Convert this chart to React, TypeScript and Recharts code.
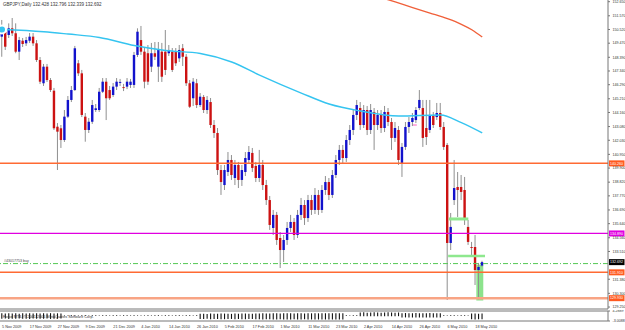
import React from 'react';
import { ComposedChart, Bar, Line, XAxis, YAxis, ReferenceLine, ReferenceArea } from 'recharts';

// ---- data ----
const dateLabels = ['5 Nov 2009','17 Nov 2009','27 Nov 2009','9 Dec 2009','21 Dec 2009','4 Jan 2010','14 Jan 2010','26 Jan 2010','5 Feb 2010','17 Feb 2010','1 Mar 2010','11 Mar 2010','23 Mar 2010','2 Apr 2010','14 Apr 2010','26 Apr 2010','6 May 2010','18 May 2010'];
const dateTickIdx = [0,8,16,24,32,40,48,56,64,72,80,88,96,104,112,120,128,136];

const priceTicks = [152.65,151.57,150.52,149.47,148.39,147.34,146.29,145.21,144.16,143.08,142.03,140.95,139.9,138.82,137.77,136.69,135.64,134.56,133.51,131.38,130.3,129.25];

const opens = [149.97,150.35,150.10,150.61,150.23,148.82,149.66,149.46,149.66,149.97,149.46,148.18,146.40,147.67,146.65,145.83,143.07,142.95,142.05,143.84,145.12,145.88,147.93,147.16,143.84,142.82,143.45,144.35,144.35,145.75,146.52,145.88,145.50,146.14,146.47,146.10,146.14,146.27,146.27,148.57,149.71,148.82,148.70,147.67,148.70,147.67,148.82,148.82,148.70,148.82,148.82,148.31,149.08,148.43,146.40,145.25,146.40,144.73,
145.35,144.35,144.96,143.20,142.59,139.75,138.60,139.60,140.52,139.14,140.14,138.99,139.60,140.52,141.06,140.06,139.14,140.14,138.60,137.45,135.31,136.31,134.54,133.62,134.39,135.31,135.77,134.77,136.31,137.07,136.07,137.45,136.69,137.84,136.69,138.22,138.83,137.84,139.37,140.52,141.29,140.67,142.05,142.82,143.97,144.50,143.20,144.35,142.82,144.20,143.20,143.97,142.97,144.20,143.43,142.21,142.82,
140.29,141.52,143.05,143.43,143.58,144.50,144.50,142.97,142.82,143.97,143.81,144.12,143.05,141.67,134.16,137.45,138.45,138.45,138.22,135.39,133.85,133.85,132.09,132.428];
const highs = [151.25,150.63,150.99,151.40,150.99,149.95,149.87,149.95,150.25,150.25,149.71,148.41,147.88,147.88,146.80,146.04,143.35,143.20,144.35,145.42,146.19,149.26,148.18,147.42,144.12,143.74,145.12,144.81,146.04,146.80,146.80,146.19,146.42,146.80,146.73,146.35,146.80,146.73,148.80,150.61,150.79,149.10,149.33,149.49,149.56,149.56,149.49,150.48,149.33,149.10,149.10,149.33,149.41,148.64,146.65,146.80,146.73,145.65,
145.50,145.42,145.27,143.58,142.97,140.14,140.14,141.13,140.90,140.52,140.37,140.14,141.13,141.59,141.44,140.37,141.29,140.52,138.99,137.76,136.69,136.54,135.00,134.77,135.77,136.31,136.07,136.69,137.61,137.45,137.84,137.84,138.37,138.22,138.60,139.29,139.14,139.75,140.90,141.67,141.67,142.43,143.20,144.35,145.12,144.96,144.73,144.66,144.81,144.50,144.35,144.35,144.66,144.50,143.74,143.43,143.12,
141.82,143.43,143.81,144.12,144.58,145.88,145.12,145.12,145.12,144.20,144.89,144.89,143.43,141.82,136.46,140.52,139.60,139.37,139.22,135.92,134.24,134.77,132.63,132.796];
const lows = [148.43,148.95,149.87,150.02,148.70,148.18,149.18,149.26,149.49,149.26,148.03,146.34,146.19,146.50,145.73,142.82,139.75,141.44,141.90,143.74,144.96,145.81,146.96,143.81,141.92,142.59,143.28,144.20,144.20,145.65,143.58,145.12,145.35,145.88,146.19,145.80,145.95,146.04,146.04,148.41,148.57,146.01,146.27,147.26,148.18,146.50,146.50,147.03,148.49,147.26,147.72,148.03,147.72,146.19,144.50,144.66,144.50,144.58,
144.12,144.05,142.97,142.21,139.37,137.84,138.22,139.29,138.99,138.60,138.37,138.53,139.29,140.21,139.60,138.83,138.83,138.22,137.07,135.16,134.77,134.01,132.24,132.70,134.01,135.00,134.39,134.54,135.92,135.54,135.77,136.31,136.38,136.31,136.46,137.84,137.45,137.61,139.14,140.14,140.29,140.37,141.67,142.43,143.58,142.82,142.97,142.43,142.51,141.29,142.82,142.59,142.66,143.12,141.29,141.90,140.14,
139.22,141.29,142.59,143.12,143.35,144.35,141.52,141.67,142.59,142.97,143.58,142.82,141.29,129.79,133.62,137.07,136.15,137.45,135.54,134.01,133.09,130.94,129.85,132.339];
const closes = [150.35,149.20,150.61,150.23,148.82,149.71,149.41,149.71,149.97,149.46,148.18,146.52,147.67,146.65,145.88,142.95,142.69,142.05,143.84,145.12,145.88,149.08,147.16,143.97,142.82,143.45,144.73,144.48,145.75,146.52,145.25,145.25,146.14,146.52,146.50,146.04,146.52,146.52,148.57,150.35,148.82,146.52,146.52,148.70,148.43,148.95,146.90,147.42,148.95,147.42,147.93,148.95,148.43,146.40,144.60,146.52,144.73,145.37,
144.35,145.12,143.20,142.59,139.75,138.83,139.75,140.52,139.37,140.14,138.99,139.75,140.67,141.13,139.91,139.14,140.14,138.60,137.45,135.54,136.31,134.39,133.62,134.39,135.31,135.77,134.77,136.31,137.07,136.07,137.45,136.69,137.84,136.69,138.22,138.83,137.84,139.37,140.52,141.29,140.67,142.05,142.82,143.97,144.73,143.20,144.35,142.82,144.35,143.20,143.97,142.97,144.20,143.43,142.21,142.97,140.52,
141.52,143.05,143.43,143.74,144.35,145.12,142.21,142.28,143.97,143.20,144.12,143.05,141.52,134.16,135.39,138.37,138.22,138.07,135.92,134.24,133.78,132.09,132.32,132.692];

// moving averages, read at a few bars
const maFast = [[0,150.52],[12,150.35],[19,150.17],[28,149.91],[38,149.29],[47,148.91],[57,148.68],[66,148.03],[74,147.03],[86,145.65],[94,144.81],[103,144.27],[114,143.89],[126,143.97],[132,143.38],[138,142.59]];
const maSlow = [[108,153.05],[113,152.63],[118,152.2],[123,151.78],[128,151.35],[132,150.92],[135,150.5],[138,149.94]];

// indicator histogram (low / high of each bar)
const forceHi = [2.6,2.4,2.7,2.5,2.6,2.3,2.6,2.5,2.7,2.4,2.6,2.5,2.6,2.4,2.7,2.5,2.6,2.4,
1.3,1.2,1.3,1.3,1.2,1.3,1.3,1.2,1.3,1.3,1.2,1.3,1.3,1.2,1.3,1.3,1.2,1.3,1.3,1.2,1.3,1.3,1.2,1.3,1.3,1.2,1.3,1.3,1.2,1.3,1.3,1.2,1.3,1.3,1.2,1.3,1.3,1.2,1.3,
2.2,2.3,2.1,2.4,2.2,2.3,2.5,2.4,2.3,2.2,2.4,2.3,2.5,2.4,2.2,2.3,2.4,2.5,2.6,2.4,2.5,2.6,2.7,2.5,2.6,2.7,2.6,2.5,2.7,2.6,2.5,2.7,2.6,2.7,2.6,2.7,2.7,2.6,2.7,2.6,2.7,2.6,
1.3,1.2,1.3,1.3,
3.2,3.3,3.1,3.2,3.3,3.2,3.1,3.2,3.3,3.2,3.1,3.2,
2.7,2.8,2.6,2.7,2.8,2.7,2.6,2.7,2.8,2.7,2.6,2.7,
1.3,1.2,1.3,1.3,1.2,1.3,1.3,1.2,
2.4,2.5,2.3,2.4];
const forceLo = [-1.4,-1.2,-1.5,-1.3,-1.4,-1.1,-1.4,-1.3,-1.5,-1.2,-1.4,-1.3,-1.4,-1.2,-1.5,-1.3,-1.4,-1.2,
0.9,0.9,0.9,0.9,0.9,0.9,0.9,0.9,0.9,0.9,0.9,0.9,0.9,0.9,0.9,0.9,0.9,0.9,0.9,0.9,0.9,0.9,0.9,0.9,0.9,0.9,0.9,0.9,0.9,0.9,0.9,0.9,0.9,0.9,0.9,0.9,0.9,0.9,0.9,
-1.5,-1.6,-1.4,-1.7,-1.5,-1.6,-1.8,-1.7,-1.6,-1.5,-1.7,-1.6,-1.8,-1.7,-1.5,-1.6,-1.7,-1.8,-1.9,-1.7,-1.8,-1.9,-2.0,-1.8,-1.9,-2.0,-1.9,-1.8,-2.0,-1.9,-1.8,-2.0,-1.9,-2.0,-1.9,-2.0,-2.0,-1.9,-2.0,-1.9,-2.0,-1.9,
0.9,0.9,0.9,0.9,
0.5,0.5,0.5,0.5,0.5,0.5,0.5,0.5,0.5,0.5,0.5,0.5,
-0.4,-0.4,-0.4,-0.4,-0.4,-0.4,-0.4,-0.4,-0.4,-0.4,-0.4,-0.4,
0.9,0.9,0.9,0.9,0.9,0.9,0.9,0.9,
-1.8,-1.9,-1.7,-1.8];

// ---- tables built from the arrays ----
const fastMap = new Map(maFast.map(([i, v]) => [i, v]));
const slowMap = new Map(maSlow.map(([i, v]) => [i, v]));
const data = opens.map((o, i) => ({
  i,
  open: o, high: highs[i], low: lows[i], close: closes[i],
  range: [lows[i], highs[i]],
  maFast: fastMap.has(i) ? fastMap.get(i) : null,
  maSlow: slowMap.has(i) ? slowMap.get(i) : null,
}));
const indData = forceHi.map((h, i) => ({ i, f: [forceLo[i], h] }));

const X_DOMAIN = [-0.575, 174.14];
const FONT = 'Liberation Sans, Arial, sans-serif';
const FS = 3.6;

const Candle = (props: any) => {
  const { x, y, width, height, payload } = props;
  if (!payload) return null;
  const { open, close, high, low } = payload;
  const cx = x + width / 2;
  const k = height / ((high - low) || 1);
  const yo = y + (high - open) * k;
  const yc = y + (high - close) * k;
  const top = Math.min(yo, yc);
  const h = Math.max(Math.abs(yc - yo), 0.9);
  const up = close >= open;
  return (
    <g>
      <line x1={cx} x2={cx} y1={y} y2={y + height} stroke="#8f8f8f" strokeWidth={1} />
      <rect x={cx - 1.2} y={top} width={2.4} height={h} fill={up ? '#1212cc' : '#cc1212'} />
    </g>
  );
};

const Tag = (props: any) => {
  const { viewBox, text, bg, fg } = props;
  if (!viewBox) return null;
  const x = viewBox.x + viewBox.width + 1;
  const y = viewBox.y;
  return (
    <g>
      <rect x={x} y={y - 3} width={15.5} height={6} fill={bg} />
      <text x={x + 1} y={y + 1.3} fontSize={FS} fill={fg} fontFamily={FONT}>{text}</text>
    </g>
  );
};

const BuyLabel = (props: any) => {
  const { viewBox } = props;
  if (!viewBox) return null;
  return <text x={viewBox.x + 4} y={viewBox.y - 1.5} fontSize={FS} fill="#444" fontFamily={FONT}>#43017753 buy</text>;
};

const PriceTick = (props: any) => {
  const { x, y, payload } = props;
  return <text x={x + 0.5} y={y + 1.3} fontSize={FS} fill="#333" fontFamily={FONT}>{Number(payload.value).toFixed(3)}</text>;
};

const IndTick = (props: any) => {
  const { x, y, payload } = props;
  return <text x={x + 0.5} y={y + 1.3} fontSize={FS} fill="#333" fontFamily={FONT}>{Number(payload.value).toFixed(4)}</text>;
};

const DateTick = (props: any) => {
  const { x, y, payload } = props;
  const k = dateTickIdx.indexOf(payload.value);
  return <text x={x} y={y + 4.5} fontSize={3.8} fill="#333" fontFamily={FONT}>{dateLabels[k]}</text>;
};

export default function App() {
  return (
    <div style={{ position: 'fixed', left: 0, top: 0, width: 625, height: 330, background: '#fff', overflow: 'hidden' }}>
      <div style={{ position: 'absolute', left: 0, top: 0 }}>
        <ComposedChart width={625} height={310} data={data} margin={{ top: 0, right: 0, bottom: 0, left: 0 }}>
          <XAxis dataKey="i" type="number" domain={X_DOMAIN} allowDataOverflow height={1} tick={false} tickLine={false} axisLine={{ stroke: '#777' }} />
          <YAxis orientation="right" width={17} type="number" domain={[129.10, 152.78]} allowDataOverflow ticks={priceTicks} interval={0} tickSize={2} tick={<PriceTick />} tickLine={{ stroke: '#777' }} axisLine={{ stroke: '#777' }} />
          <ReferenceArea x1={136.3} x2={138.3} y1={129.75} y2={132.5} fill="#7fe07f" fillOpacity={0.9} stroke="none" />
          <ReferenceLine y={140.26} stroke="#ff6a33" strokeWidth={1.5} label={<Tag text="140.260" bg="#ff5a1f" fg="#fff" />} />
          <ReferenceLine y={134.89} stroke="#e000e0" strokeWidth={1.2} label={<Tag text="134.890" bg="#e000e0" fg="#fff" />} />
          <ReferenceLine y={132.58} stroke="#55c855" strokeWidth={1} strokeDasharray="5 2 1 2" label={<BuyLabel />} />
          <ReferenceLine y={132.692} strokeOpacity={0} label={<Tag text="132.692" bg="#000" fg="#fff" />} />
          <ReferenceLine y={131.91} stroke="#ff6a33" strokeWidth={1.5} label={<Tag text="131.910" bg="#ff5a1f" fg="#fff" />} />
          <ReferenceLine y={129.93} stroke="#f8a484" strokeWidth={2.5} label={<Tag text="129.930" bg="#ff5a1f" fg="#fff" />} />
          <ReferenceLine segment={[{ x: 128.4, y: 136.0 }, { x: 134, y: 136.0 }]} stroke="#8ee88e" strokeWidth={3} />
          <ReferenceLine segment={[{ x: 128.2, y: 133.16 }, { x: 138.8, y: 133.16 }]} stroke="#8ee88e" strokeWidth={2.5} />
          <ReferenceLine segment={[{ x: 118.1, y: 143.2 }, { x: 119.2, y: 143.2 }]} stroke="#ff77cc" strokeWidth={1.2} />
          <Line dataKey="maFast" type="monotone" stroke="#35c4f0" strokeWidth={1.4} dot={false} connectNulls isAnimationActive={false} />
          <Line dataKey="maSlow" type="monotone" stroke="#f0603a" strokeWidth={1.4} dot={false} connectNulls isAnimationActive={false} />
          <Bar dataKey="range" barSize={3} shape={<Candle />} isAnimationActive={false} />
        </ComposedChart>
      </div>
      <div style={{ position: 'absolute', left: 0, top: 310 }}>
        <ComposedChart width={625} height={20} data={indData} margin={{ top: 0, right: 0, bottom: 0, left: 0 }}>
          <XAxis xAxisId="top" orientation="top" dataKey="i" type="number" domain={X_DOMAIN} allowDataOverflow height={1} tick={false} tickLine={false} axisLine={{ stroke: '#777' }} />
          <XAxis dataKey="i" type="number" domain={X_DOMAIN} allowDataOverflow height={9} ticks={dateTickIdx} interval={0} tickSize={0} tick={<DateTick />} axisLine={{ stroke: '#777' }} />
          <YAxis orientation="right" width={17} type="number" domain={[-3.0088, 4.2889]} ticks={[4.2889, -3.0088]} interval={0} tickSize={2} tick={<IndTick />} tickLine={{ stroke: '#777' }} axisLine={{ stroke: '#777' }} />
          <Bar dataKey="f" barSize={1.1} fill="#111" isAnimationActive={false} />
        </ComposedChart>
      </div>
      <svg width={625} height={330} style={{ position: 'absolute', left: 0, top: 0, pointerEvents: 'none' }}>
        <text x={3} y={6} fontSize={4.5} fill="#333" fontFamily={FONT}>GBPJPY,Daily  132.428 132.796 132.339 132.692</text>
        <text x={3} y={318} fontSize={3.8} fill="#333" fontFamily={FONT}>Force MT4, © 2001-2006 MetaQuotes Software Corp.</text>
      </svg>
    </div>
  );
}
